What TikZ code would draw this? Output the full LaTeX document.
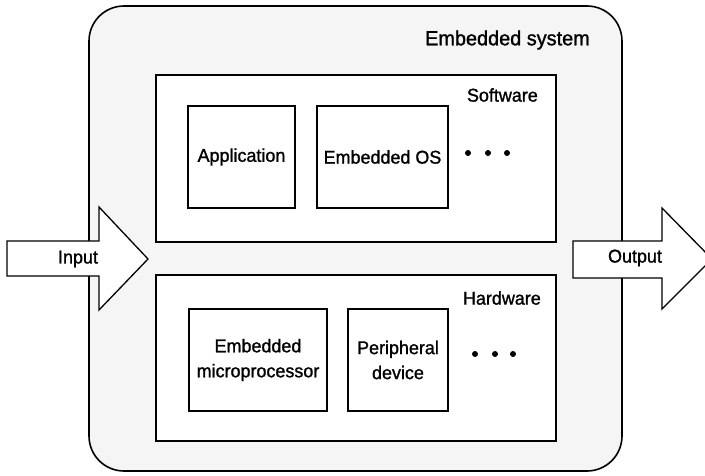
\documentclass[tikz,border=0pt]{standalone}
\usepackage{fontspec}
\setmainfont[FakeStretch=0.97,FakeBold=1.2]{Liberation Sans}
\usetikzlibrary{positioning}
\colorlet{penColor}{black}
\colorlet{sysFill}{black!4}
\tikzset{
  blk/.style={draw=penColor,line width=1.3pt,fill=white,align=center,
    font=\fontsize{18.5}{25}\selectfont,inner sep=0pt},
  lbl/.style={font=\fontsize{18.5}{25}\selectfont,inner sep=0pt},
  flow/.style={draw=penColor,line width=1.3pt,fill=white,line join=miter}
}

\begin{document}
\begin{tikzpicture}[x=1pt,y=-1pt]
				\clip (0,0) rectangle (705,476);
				\draw[penColor,line width=1.6pt,fill=sysFill,rounded corners=35pt] (89,6) rectangle (622,471);
				\node[lbl,anchor=east,font=\fontsize{20.5}{25}\selectfont] (sys) at (590,40) {Embedded system};
				% software layer
				\node[blk,minimum width=400pt,minimum height=167pt] (sw) at (356,158.5) {};
				\node[lbl,anchor=east] (swlbl) at (538,95) {Software};
				\node[blk,minimum width=107pt,minimum height=102pt] (app) at (241.5,157) {Application};
				\node[blk,minimum width=131pt,minimum height=102pt] (os) at (382.5,157) {Embedded OS};
				\foreach \x in {468,488,507} \fill[penColor] (\x,153) circle (3pt);
				% hardware layer
				\node[blk,minimum width=400pt,minimum height=166pt] (hw) at (356,358) {};
				\node[lbl,anchor=east] (hwlbl) at (541,298) {Hardware};
				\node[blk,minimum width=138pt,minimum height=102pt] (cpu) at (258,360) {Embedded\\microprocessor};
				\node[blk,minimum width=100pt,minimum height=102pt] (dev) at (398,360) {Peripheral\\device};
				\foreach \x in {475,495,513} \fill[penColor] (\x,354) circle (3pt);
				% in and out
				\draw[flow] (7,241) -- (99,241) -- (99,207) -- (148,259) -- (99,310) -- (99,276) -- (7,276) -- cycle;
				\node[lbl] (in) at (78,259) {Input};
				\draw[flow] (573,241) -- (662,241) -- (662,208) -- (712,259) -- (662,309) -- (662,278) -- (573,278) -- cycle;
				\node[lbl] (out) at (635,258) {Output};
\end{tikzpicture}
\end{document}
